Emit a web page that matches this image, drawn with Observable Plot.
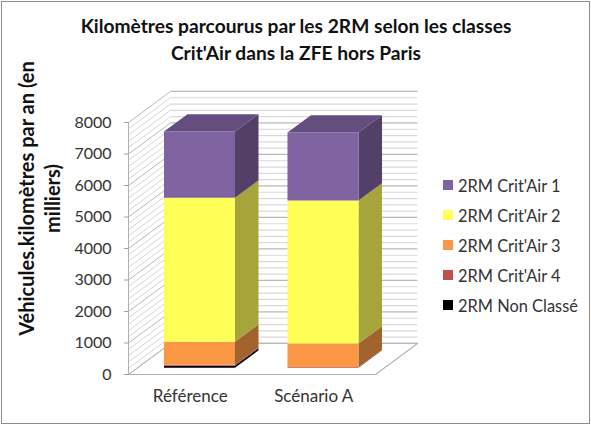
<!DOCTYPE html>
<html lang="fr"><head><meta charset="utf-8">
<script src="https://cdn.jsdelivr.net/npm/d3@7"></script>
<script src="https://cdn.jsdelivr.net/npm/@observablehq/plot@0.6"></script>
<style>
html,body{margin:0;padding:0;background:#fff}
#chart{position:relative;width:591px;height:427px;overflow:hidden;font-family:Lato,sans-serif}
#frame{position:absolute;left:1px;top:1px;width:589px;height:423px;border:1.5px solid #8c8c8c;box-sizing:border-box;pointer-events:none}
#title{position:absolute;left:0;top:12px;width:592px;text-align:center;font-weight:700;font-size:19.2px;line-height:27px;color:#111}
#legend{position:absolute;left:443px;top:170px;font-size:16.4px;color:#333}
#legend div{height:30px;display:flex;align-items:center;white-space:nowrap}
#legend i{display:inline-block;width:10px;height:10px;margin-right:5px}
svg{display:block;overflow:visible}
</style></head><body>
<div id="chart"><div id="plot"></div><div id="title">Kilomètres parcourus par les 2RM selon les classes<br>Crit'Air dans la ZFE hors Paris</div><div id="legend"></div><div id="frame"></div></div>
<script>
const categories = ["Référence", "Scénario A"];
const series = ["2RM Non Classé", "2RM Crit'Air 4", "2RM Crit'Air 3", "2RM Crit'Air 2", "2RM Crit'Air 1"];
const reference = [60, 35, 730, 4570, 2100];
const scenarioA = [0, 25, 740, 4540, 2160];
const frontColors = ["#000000", "#C0504D", "#F99745", "#FFFF57", "#8064A2"];
const sideColors = ["#000000", "#74302E", "#A2622B", "#A5A53C", "#534068"];
const topColor = "#644E80";
const yTicks = [0, 1000, 2000, 3000, 4000, 5000, 6000, 7000, 8000];
const gridValues = d3.range(0, 8001, 200);

// oblique projection of the 3D box: depth d in [0,1]
const DX = 0.34, DY = 985;
const barDepth0 = 0.22, barDepth1 = 0.78, barWidth = 0.575;

const grid = gridValues.map(v => ({v, major: v % 1000 === 0}));
const floor = [[0,0],[2,0],[2,1],[0,1]].map(([x,d]) => ({x: x + d*DX, y: d*DY}));

const faces = [];
function poly(id, fill, pts){ pts.forEach(([x,y]) => faces.push({id, fill, x, y})); }
[reference, scenarioA].forEach((vals, c) => {
  const cx = c + 0.5, xl = cx - barWidth/2 + barDepth0*DX, xr = xl + barWidth;
  const ox = (barDepth1 - barDepth0)*DX, oy = (barDepth1 - barDepth0)*DY, base = barDepth0*DY;
  let cum = 0;
  vals.forEach((v, i) => {
    const a = base + cum, b = a + v; cum += v;
    if (!v) return;
    poly(`s${c}${i}`, sideColors[i], [[xr,a],[xr+ox,a+oy],[xr+ox,b+oy],[xr,b]]);
    poly(`f${c}${i}`, frontColors[i], [[xl,a],[xr,a],[xr,b],[xl,b]]);
  });
  const t = base + cum;
  poly(`t${c}`, topColor, [[xl,t],[xr,t],[xr+ox,t+oy],[xl+ox,t+oy]]);
});

const plot = Plot.plot({
  width: 591, height: 427,
  marginLeft: 128, marginRight: 216, marginTop: 122, marginBottom: 53,
  x: {domain: [0, 2]},
  y: {domain: [0, 8000]},
  style: {fontFamily: "Lato, sans-serif", background: "transparent", overflow: "visible"},
  marks: [
    // floor
    Plot.line(floor, {x: "x", y: "y", fill: "#fff", stroke: "#b5b5b5", strokeWidth: 1.2}),
    Plot.link([{}], {x1: () => 0, y1: () => 0, x2: () => DX, y2: () => DY, stroke: "#b5b5b5"}),
    // left wall and back wall gridlines
    Plot.link(grid, {x1: () => 0, y1: "v", x2: () => DX, y2: d => d.v + DY,
      stroke: d => d.major ? "#b8b8b8" : "#d6d6d6", strokeWidth: 1}),
    Plot.link(grid, {x1: () => DX, y1: d => d.v + DY, x2: () => 2 + DX, y2: d => d.v + DY,
      stroke: d => d.major ? "#b8b8b8" : "#d9d9d9", strokeWidth: 1.2}),
    Plot.ruleX([0], {y1: 0, y2: 8000, stroke: "#b0b0b0"}),
    Plot.ruleY([0], {x1: 0, x2: 2, stroke: "#b0b0b0", strokeWidth: 1.2}),
    // bars
    Plot.line(faces, {x: "x", y: "y", z: "id", fill: "fill", stroke: "none"}),
    // axes
    Plot.axisY({ticks: yTicks, tickSize: 4, tickPadding: 13, label: null, stroke: "#a0a0a0", color: "#333", fontSize: 16, tickFormat: d => String(d)}),
    Plot.axisX({ticks: [0.5, 1.5], tickSize: 0, tickPadding: 15, label: null, fill: "#333", fontSize: 17, tickFormat: d => categories[Math.floor(d)]}),
    Plot.text(["Véhicules.kilomètres par an (en\nmilliers)"], {
      frameAnchor: "left", textAnchor: "middle", rotate: -90, dx: -90, dy: -50, fontSize: 20, fontWeight: 700, fill: "#111", lineHeight: 1.3
    })
  ]
});
document.getElementById("plot").append(plot);

const legend = document.getElementById("legend");
series.slice().reverse().forEach((s, i) => {
  const row = document.createElement("div");
  const sw = document.createElement("i");
  sw.style.background = frontColors[frontColors.length - 1 - i];
  row.append(sw, document.createTextNode(s));
  legend.append(row);
});
</script>
</body></html>
